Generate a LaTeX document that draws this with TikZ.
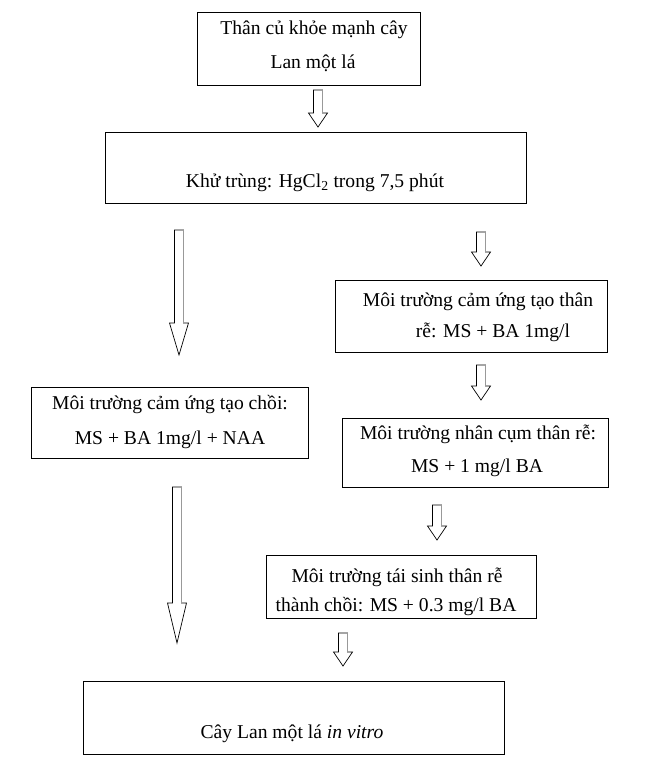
\documentclass[tikz,border=0pt]{standalone}
\usepackage{fontspec}
\setmainfont{Liberation Serif}
\usetikzlibrary{calc}
\newcommand\blockarr[3]{%
  \draw[blk] let \p1=(#1), \p2=(#2) in
   (\x1-4.5pt,\y1) -- (\x1-4.5pt,\y2+#3) -- (\x1-9.5pt,\y2+#3) -- (\x1,\y2)
   -- (\x1+9.5pt,\y2+#3) -- (\x1+4.5pt,\y2+#3) -- (\x1+4.5pt,\y1) -- cycle;
  \draw[blkshade] let \p1=(#1), \p2=(#2) in (\x1+4.5pt,\y1) -- (\x1+4.5pt,\y2+#3);
}
\begin{document}
\begin{tikzpicture}[x=1pt,y=-1pt,
  box/.style={draw, line width=1.1pt, inner sep=0pt, anchor=north west},
  txt/.style={font=\fontsize{19.6}{19.6}\selectfont, inner sep=0pt, anchor=center},
  blk/.style={draw, line width=0.7pt, fill=white},
  blkshade/.style={draw=black!40, line width=1.3pt}]
\useasboundingbox (0,0) rectangle (661,782);
\fill[white] (0,0) rectangle (661,782);

% boxes
\node[box, minimum width=223pt, minimum height=73pt] (b1) at (197,12) {};
\node[box, minimum width=421pt, minimum height=71pt] (b2) at (105,132) {};
\node[box, minimum width=272pt, minimum height=72pt] (b3) at (335,280) {};
\node[box, minimum width=277pt, minimum height=71pt] (b4) at (31,387) {};
\node[box, minimum width=266pt, minimum height=69pt] (b5) at (342,418) {};
\node[box, minimum width=270pt, minimum height=63pt] (b6) at (266,555) {};
\node[box, minimum width=421pt, minimum height=73pt] (b7) at (83,681) {};

% texts
\node[txt] (t1a) at (314,30) {Thân củ khỏe mạnh cây};
\node[txt] (t1b) at (313,63) {Lan một lá};
\node[txt] (t2) at (315,183) {Khử trùng: HgCl\textsubscript{2} trong 7,5 phút};
\node[txt] (t3a) at (478,302) {Môi trường cảm ứng tạo thân};
\node[txt] (t3b) at (493,332) {rễ: MS + BA 1mg/l};
\node[txt] (t4a) at (170,405) {Môi trường cảm ứng tạo chồi:};
\node[txt] (t4b) at (170,440) {MS + BA 1mg/l + NAA};
\node[txt] (t5a) at (478,434) {Môi trường nhân cụm thân rễ:};
\node[txt] (t5b) at (477,468) {MS + 1 mg/l BA};
\node[txt] (t6a) at (397,577) {Môi trường tái sinh thân rễ};
\node[txt] (t6b) at (396,607) {thành chồi: MS + 0.3 mg/l BA};
\node[txt] (t7) at (292,734) {Cây Lan một lá \textit{in vitro}};

% arrow end points
\coordinate (a1s) at (318,90);  \coordinate (a1e) at (318,127);
\coordinate (a2s) at (179,230); \coordinate (a2e) at (179,355);
\coordinate (a3s) at (481,232); \coordinate (a3e) at (481,266);
\coordinate (a4s) at (481,365); \coordinate (a4e) at (481,400);
\coordinate (a5s) at (177,487); \coordinate (a5e) at (177,643);
\coordinate (a6s) at (437,505); \coordinate (a6e) at (437,540);
\coordinate (a7s) at (343,633); \coordinate (a7e) at (343,666);

\blockarr{a1s}{a1e}{14pt}
\blockarr{a2s}{a2e}{32pt}
\blockarr{a3s}{a3e}{14pt}
\blockarr{a4s}{a4e}{14pt}
\blockarr{a5s}{a5e}{40pt}
\blockarr{a6s}{a6e}{14pt}
\blockarr{a7s}{a7e}{14pt}
\end{tikzpicture}
\end{document}
